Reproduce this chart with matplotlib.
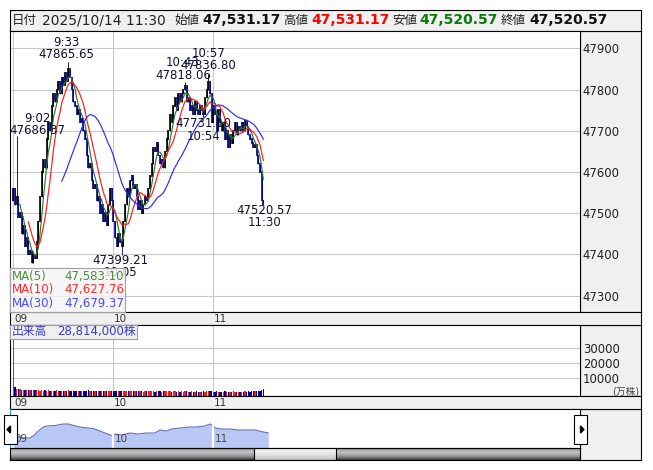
import numpy as np
import pandas as pd
import matplotlib
matplotlib.use('Agg')
import matplotlib.pyplot as plt
from matplotlib.patches import Rectangle, Polygon
from matplotlib.colors import LinearSegmentedColormap
import matplotlib.transforms as mtransforms

plt.rcParams['font.family'] = ['DejaVu Sans', 'Noto Sans CJK JP']

# ---- data (1-minute bars, 09:00 - 11:30) ----
first_open = 47530
closes = [
    47560, 47520, 47540, 47490, 47500, 47450, 47470, 47420, 47440, 47400,
    47410, 47380, 47400, 47390, 47430, 47480, 47540, 47600, 47630, 47610,
    47680, 47720, 47700, 47760, 47790, 47770, 47800, 47820, 47790, 47830,
    47810, 47840, 47820, 47850, 47830, 47800, 47770, 47760, 47740, 47750,
    47720, 47730, 47700, 47680, 47640, 47610, 47620, 47580, 47560, 47570,
    47530, 47540, 47500, 47520, 47480, 47500, 47470, 47520, 47560, 47530,
    47480, 47440, 47420, 47450, 47430, 47420, 47480, 47520, 47560, 47540,
    47580, 47590, 47560, 47570, 47540, 47510, 47530, 47500, 47520, 47540,
    47530, 47560, 47590, 47620, 47660, 47650, 47670, 47640, 47620, 47630,
    47610, 47650, 47680, 47700, 47740, 47720, 47760, 47780, 47750, 47790,
    47770, 47790, 47800, 47810, 47770, 47780, 47750, 47760, 47740, 47770,
    47750, 47740, 47760, 47750, 47740, 47780, 47800, 47820, 47790, 47720,
    47760, 47740, 47700, 47750, 47720, 47700, 47720, 47680, 47700, 47660,
    47690, 47670, 47700, 47720, 47690, 47710, 47700, 47720, 47700, 47724,
    47710, 47690, 47680, 47670, 47660, 47666, 47640, 47620, 47600, 47531.17,
    47520.57,
]
high_marks = {2: 47686.37, 33: 47865.65, 103: 47818.06, 117: 47836.80}
low_marks = {65: 47399.21, 114: 47731.10}

volumes = [
    38000, 4400, 2900, 3000, 2600, 2400, 2300, 2500, 2200, 2100,
    2300, 2000, 2200, 1900, 2100, 2000, 1800, 2100, 1700, 1900,
    1800, 2000, 1700, 1600, 1800, 1700, 1900, 1600, 1700, 1500,
    1800, 1600, 1700, 1900, 1500, 1700, 1600, 1400, 1800, 1500,
    1600, 1400, 1700, 1500, 1600, 2100, 1500, 1400, 1600, 1300,
    1500, 1400, 1600, 1300, 1500, 1400, 1200, 1500, 1600, 1300,
    1400, 1500, 1300, 1600, 1400, 1700, 1500, 1300, 1400, 1200,
    1500, 1300, 1400, 1200, 1300, 1400, 1200, 1300, 1100, 1300,
    1200, 1400, 1300, 1200, 1400, 1100, 1300, 1200, 1400, 1100,
    1200, 1300, 1200, 1400, 1300, 1100, 1200, 1300, 1100, 1200,
    1000, 1200, 1100, 1300, 1200, 1000, 1100, 1200, 1000, 1100,
    1200, 1000, 1100, 1000, 1200, 1100, 1300, 1400, 1200, 1300,
    1100, 1000, 1200, 1100, 1000, 1100, 1000, 1200, 1100, 1000,
    1100, 1000, 1200, 1100, 1000, 1100, 1000, 1100, 1000, 1200,
    1100, 1200, 1100, 1300, 1200, 1400, 1300, 1500, 1700, 2300,
    2881.4,
]

# navigator overview (minute, relative level)
nav_t = [0, 3, 6, 10, 12, 15, 18, 20, 25, 30, 33, 35, 40, 45, 48, 52, 55, 58, 60,
         61, 65, 70, 75, 80, 85, 88, 92, 95, 100, 105, 110, 115, 118, 120,
         121, 125, 130, 135, 140, 145, 150, 153]
nav_v = [19, 11, 10, 10, 12, 17, 21, 22, 22.5, 24, 24, 23, 21, 20, 19.5, 17, 15, 13, 12,
         14, 13, 15, 14, 15, 15, 18, 17, 19, 20, 21, 21, 22, 24, 22,
         20, 19, 19, 18, 18, 18, 16, 15]

time_ticks = [0, 60, 120]
time_labels = ['09', '10', '11']
price_ticks = [47300, 47400, 47500, 47600, 47700, 47800, 47900]
vol_ticks = [10000, 20000, 30000]

header_items = [
    ('日付', None, False), ('2025/10/14 11:30', None, False),
    ('始値', None, False), ('47,531.17', '#111111', True),
    ('高値', None, False), ('47,531.17', '#ff0000', True),
    ('安値', None, False), ('47,520.57', '#0a7a0a', True),
    ('終値', None, False), ('47,520.57', '#111111', True),
]
ma_periods = [5, 10, 30]
ma_colors = ['#2a7a2a', '#ff1a1a', '#2a2aff']
ma_text_colors = ['#4f8f3f', '#ff2a2a', '#4a4aff']
ma_values = ['47,583.10', '47,627.76', '47,679.37']
volume_label = '28,814,000株'

marks = [  # (minute, price, text, dx, dy)
    (2, 47686.37, '9:02\n47686.37', 21, 12),
    (33, 47865.65, '9:33\n47865.65', -2, 14),
    (65, 47399.21, '47399.21\n10:05', -1, -12),
    (103, 47818.06, '10:43\n47818.06', -2, 13),
    (117, 47836.80, '10:57\n47836.80', 0, 15),
    (114, 47731.10, '47731.10\n10:54', 0, -12),
    (150, 47520.57, '47520.57\n11:30', 1, -12),
]

# ---- derived ohlc ----
n = len(closes)
t = np.arange(n)
c = np.array(closes, dtype=float)
o = np.concatenate([[first_open], c[:-1]])
h = np.maximum(o, c)
l = np.minimum(o, c)
for k, v in high_marks.items():
    h[k] = max(h[k], v)
for k, v in low_marks.items():
    l[k] = min(l[k], v)
up = c >= o

W, H = 653, 470
fig = plt.figure(figsize=(W / 100, H / 100), dpi=100)


def px_axes(x0, y0, x1, y1, fc='white', z=1, ec='black'):
    ax = fig.add_axes([x0 / W, 1 - y1 / H, (x1 - x0) / W, (y1 - y0) / H], zorder=z)
    ax.set_facecolor(fc)
    ax.set_xticks([])
    ax.set_yticks([])
    for s in ax.spines.values():
        s.set_linewidth(0.8)
        s.set_color(ec)
    return ax


def ftext(x, y, s, **kw):
    kw.setdefault('va', 'center')
    kw.setdefault('zorder', 20)
    return fig.text(x / W, 1 - y / H, s, **kw)


XL = (-1.98, 340.0)

# header
px_axes(10, 10, 641, 31, '#f0f0f0')
hx = [12, 42, 174, 202, 283, 311, 392, 419, 501, 529]
for x, (s, col, bold) in zip(hx, header_items):
    if bold:
        ftext(x, 20.5, s, fontsize=10, fontweight='bold', color=col)
    elif s[0].isdigit():
        ftext(x, 20.5, s, fontsize=10, color='#222222')
    else:
        ftext(x, 20.5, s, fontsize=9, color='#222222')

# main price chart
px_axes(580, 31, 641, 312, '#f0f0f0', z=0)
ax = px_axes(10, 31, 580, 312)
ax.set_xlim(*XL)
ax.set_ylim(47260, 47942)
ax.set_xticks(time_ticks)
ax.set_yticks(price_ticks)
ax.yaxis.tick_right()
ax.tick_params(axis='x', length=0, labelbottom=False)
ax.tick_params(axis='y', length=0, pad=2, labelsize=8.4, labelcolor='#222222')
ax.grid(color='#c8c8c8', lw=0.8)
ax.set_axisbelow(True)
cols = np.where(up, 'black', '#000090')
ax.vlines(t, l, h, colors=cols, lw=0.6, zorder=3)
ax.vlines(t, np.minimum(o, c) - 1.5, np.maximum(o, c) + 1.5, colors=cols, lw=1.2, zorder=3)
s = pd.Series(c)
for p, col in zip(ma_periods, ma_colors):
    ax.plot(t, s.rolling(p).mean(), color=col, lw=0.85, zorder=4)
for m, p, txt, dx, dy in marks:
    ax.annotate(txt, xy=(m, p), xytext=(dx, dy), textcoords='offset pixels',
                ha='center', va='center', fontsize=8.5, linespacing=0.95,
                color='#101030', zorder=6)

# MA legend box
mb = px_axes(10, 268, 125, 312, '#f4f4f4', z=5, ec='#a0a0a0')
mb.patch.set_alpha(0.82)
for i, (p, col, val) in enumerate(zip(ma_periods, ma_text_colors, ma_values)):
    y = 276.5 + i * 13.5
    ftext(12, y, f'MA({p})', fontsize=8.5, color=col)
    ftext(124, y, val, fontsize=8.5, color=col, ha='right')

# time strip under price chart
px_axes(10, 312, 641, 325, '#f0f0f0')
blend = mtransforms.blended_transform_factory(ax.transData, fig.transFigure)
for m, lab in zip(time_ticks, time_labels):
    fig.text(m + 0.6, 1 - 318.5 / H, lab, transform=blend, fontsize=7.5,
             color='#333333', va='center', ha='left', zorder=20)

# volume
px_axes(580, 325, 641, 396, '#f0f0f0', z=0)
av = px_axes(10, 325, 580, 396)
av.set_xlim(*XL)
vb = -1800
av.set_ylim(vb, 45533)
av.set_xticks(time_ticks)
av.set_yticks(vol_ticks)
av.yaxis.tick_right()
av.tick_params(axis='x', length=0, labelbottom=False)
av.tick_params(axis='y', length=0, pad=2, labelsize=8.4, labelcolor='#222222')
av.grid(color='#c8c8c8', lw=0.8)
av.set_axisbelow(True)
vol = np.array(volumes, dtype=float)
av.bar(t, vol - vb, bottom=vb, width=0.72, color=np.where(up, '#ff1a1a', '#0000a0'), zorder=3)
ftext(639, 391, '(万株)', fontsize=7, color='#444444', ha='right')

px_axes(10, 325, 137, 339, '#f0f0f0', z=5, ec='#a0a0a0')
ftext(12, 332, '出来高', fontsize=8.5, color='#3a3acc')
ftext(136, 332, volume_label, fontsize=8.5, color='#3a3acc', ha='right')

# time strip under volume
px_axes(10, 396, 641, 409, '#f0f0f0')
for m, lab in zip(time_ticks, time_labels):
    fig.text(m + 0.6, 1 - 402.5 / H, lab, transform=blend, fontsize=7.5,
             color='#333333', va='center', ha='left', zorder=20)

# navigator
px_axes(580, 409, 641, 460, '#f0f0f0', z=0)
an = px_axes(10, 409, 580, 448)
an.set_xlim(*XL)
an.set_ylim(0, 39)
an.fill_between(nav_t, nav_v, color='#b9c7f6', lw=0)
an.plot(nav_t, nav_v, color='#6670b0', lw=0.8)
an.vlines([60, 120], 0, 39, colors='white', lw=1.6)
for m, lab in zip(time_ticks, time_labels):
    an.text(m + 0.8, 9, lab, fontsize=7.5, color='#444444', va='center', ha='left')

# scrollbar
sb = px_axes(10, 448, 580, 460)
sb.set_xlim(0, 570)
sb.set_ylim(0, 12)
grad = np.linspace(0, 1, 32).reshape(-1, 1)
dark = LinearSegmentedColormap.from_list('dk', ['#8a8a8a', '#c4c4c4', '#9a9a9a', '#3a3a3a'])
light = LinearSegmentedColormap.from_list('lt', ['#f6f6f6', '#e6e6e6', '#c0c0c0'])
sb.imshow(grad, extent=(0, 570, 0, 12), aspect='auto', cmap=dark, origin='upper', zorder=1)
sb.imshow(grad, extent=(244, 326, 0, 12), aspect='auto', cmap=light, origin='upper', zorder=2)
sb.add_patch(Rectangle((244, 0), 82, 12, fill=False, ec='black', lw=0.8, zorder=3))

# navigator handles
ftrans = fig.transFigure


def fig_rect(x0, y0, x1, y1, **kw):
    fig.patches.append(Rectangle((x0 / W, 1 - y1 / H), (x1 - x0) / W, (y1 - y0) / H,
                                 transform=ftrans, figure=fig, zorder=30, **kw))


def fig_poly(pts, **kw):
    fig.patches.append(Polygon([(x / W, 1 - y / H) for x, y in pts], closed=True,
                               transform=ftrans, figure=fig, zorder=31, **kw))


fig_rect(10, 409, 10.8, 448, color='#1aa0e0', lw=0)
fig_rect(579.6, 409, 580.4, 448, color='#1aa0e0', lw=0)
fig_rect(4, 415, 17, 444, fc='white', ec='black', lw=0.8)
fig_rect(574, 415, 587, 444, fc='white', ec='black', lw=0.8)
fig_poly([(7, 429.5), (10.5, 426), (10.5, 433)], color='black')
fig_poly([(584, 429.5), (580.5, 426), (580.5, 433)], color='black')

fig.savefig('out.png', dpi=100)
